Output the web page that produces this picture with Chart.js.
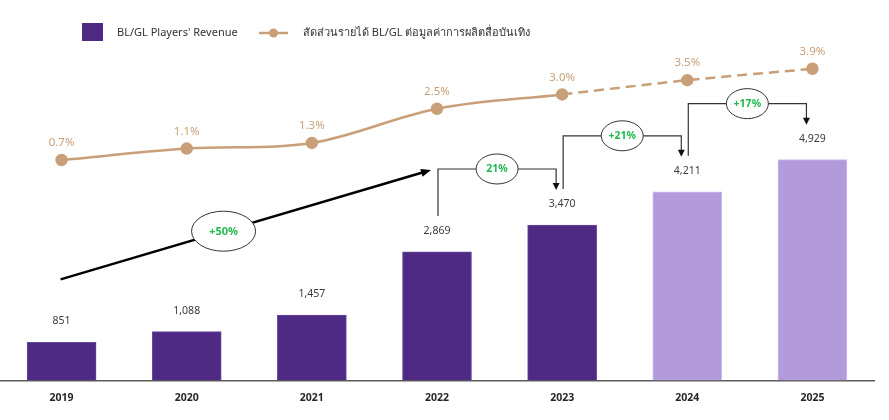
<!DOCTYPE html>
<html><head><meta charset="utf-8">
<script src="https://cdn.jsdelivr.net/npm/chart.js@4.4.0/dist/chart.umd.min.js"></script>
<style>
html,body{margin:0;padding:0;background:#fff;width:889px;height:420px;overflow:hidden;}
#wrap{position:absolute;left:-1px;top:0;width:876px;height:420px;}
</style></head><body>
<div id="wrap"><canvas id="c"></canvas></div>
<script>
const years = ['2019','2020','2021','2022','2023','2024','2025'];
const revenue = [851, 1088, 1457, 2869, 3470, 4211, 4929];
const share = [0.7, 1.1, 1.3, 2.5, 3.0, 3.5, 3.9];
const growthLabels = ['21%', '+21%', '+17%'];   // 2022→2023, 2023→2024, 2024→2025
const cagrLabel = '+50%';                        // 2019→2022
const legendLabels = ["BL/GL Players' Revenue", 'สัดส่วนรายได้ BL/GL ต่อมูลค่าการผลิตสื่อบันเทิง'];
const forecastStart = 5;

const barDark = '#4E2A84', barLight = '#B39BDB', lineColor = '#C89F78';
const green = '#22B84F', ink = '#3A3A3A';
const FONT = '"Noto Sans", "Open Sans", sans-serif';

function arrowHead(ctx, x, y, ang, len, half) {
  ctx.beginPath();
  ctx.moveTo(x, y);
  ctx.lineTo(x - len*Math.cos(ang) + half*Math.sin(ang), y - len*Math.sin(ang) - half*Math.cos(ang));
  ctx.lineTo(x - len*Math.cos(ang) - half*Math.sin(ang), y - len*Math.sin(ang) + half*Math.cos(ang));
  ctx.closePath();
  ctx.fill();
}
function bubble(ctx, cx, cy, rx, ry, text, size) {
  ctx.beginPath();
  ctx.ellipse(cx, cy, rx, ry, 0, 0, Math.PI*2);
  ctx.fillStyle = '#fff'; ctx.fill();
  ctx.lineWidth = 1; ctx.strokeStyle = '#333'; ctx.stroke();
  ctx.fillStyle = green;
  ctx.font = 'bold ' + size + 'px ' + FONT;
  ctx.textAlign = 'center'; ctx.textBaseline = 'middle';
  ctx.fillText(text, cx, cy + 0.5);
}

const overlay = {
  id: 'overlay',
  afterDraw(chart) {
    const ctx = chart.ctx;
    const xs = chart.scales.x;
    const bars = chart.getDatasetMeta(0).data;
    const pts = chart.getDatasetMeta(1).data;
    const cx = i => xs.getPixelForValue(i);
    const labelY = i => bars[i].y - 21;
    ctx.save();
    // value labels
    ctx.textAlign = 'center'; ctx.textBaseline = 'middle';
    ctx.font = '10.5px ' + FONT; ctx.fillStyle = ink;
    revenue.forEach((v, i) => ctx.fillText(v.toLocaleString('en-US'), cx(i), labelY(i)));
    ctx.font = '11.5px ' + FONT; ctx.fillStyle = lineColor;
    share.forEach((v, i) => ctx.fillText(v.toFixed(1) + '%', pts[i].x, pts[i].y - 17));

    // step connectors
    let firstLevel = 0;
    for (let k = 0; k < growthLabels.length; k++) {
      const i = 3 + k;
      const x0 = cx(i) + 1, x1 = cx(i+1) - 6;
      const y0 = labelY(i) - 15, tip = labelY(i+1) - 14;
      const lvl = tip - 21;
      if (k === 0) firstLevel = lvl;
      ctx.strokeStyle = '#333'; ctx.lineWidth = 1.2;
      ctx.beginPath();
      ctx.moveTo(x0, y0); ctx.lineTo(x0, lvl); ctx.lineTo(x1, lvl); ctx.lineTo(x1, tip - 6);
      ctx.stroke();
      ctx.fillStyle = '#111';
      arrowHead(ctx, x1, tip, Math.PI/2, 7, 3.5);
      bubble(ctx, (x0 + x1)/2, lvl, 21, 15, growthLabels[k], 10.5);
    }
    // CAGR arrow
    const ax0 = cx(0) - 1, ay0 = labelY(0) - 42;
    const ax1 = cx(3) - 6, ay1 = firstLevel + 1;
    const ang = Math.atan2(ay1 - ay0, ax1 - ax0);
    ctx.strokeStyle = '#000'; ctx.lineWidth = 2.4;
    ctx.beginPath(); ctx.moveTo(ax0, ay0);
    ctx.lineTo(ax1 - 8*Math.cos(ang), ay1 - 8*Math.sin(ang)); ctx.stroke();
    ctx.fillStyle = '#000';
    arrowHead(ctx, ax1, ay1, ang, 10, 4);
    const t = 0.44;
    bubble(ctx, ax0 + (ax1-ax0)*t, ay0 + (ay1-ay0)*t, 32, 20, cagrLabel, 11);

    // legend
    ctx.fillStyle = barDark;
    ctx.fillRect(83, 23, 21, 18);
    ctx.font = '11px ' + FONT; ctx.fillStyle = '#333';
    ctx.textAlign = 'left'; ctx.textBaseline = 'middle';
    ctx.fillText(legendLabels[0], 118, 33);
    ctx.strokeStyle = lineColor; ctx.lineWidth = 2.5;
    ctx.beginPath(); ctx.moveTo(260, 33); ctx.lineTo(289, 33); ctx.stroke();
    ctx.fillStyle = lineColor;
    ctx.beginPath(); ctx.arc(274.5, 33, 4.5, 0, Math.PI*2); ctx.fill();
    ctx.fillStyle = '#333';
    ctx.fillText(legendLabels[1], 304, 33);
    ctx.restore();
  }
};

new Chart(document.getElementById('c'), {
  data: {
    labels: years,
    datasets: [
      {
        type: 'bar', label: legendLabels[0], data: revenue, yAxisID: 'y',
        backgroundColor: revenue.map((v, i) => i >= forecastStart ? barLight : barDark),
        borderColor: revenue.map((v, i) => i >= forecastStart ? '#CDBDF0' : '#6A4A9E'),
        borderWidth: {top: 1, left: 1, right: 1, bottom: 0},
        barThickness: 69, order: 2
      },
      {
        type: 'line', label: legendLabels[1], data: share, yAxisID: 'y2',
        borderColor: lineColor, backgroundColor: lineColor, borderWidth: 2.5,
        pointRadius: 5, pointHoverRadius: 5, tension: 0.35, clip: false, order: 1,
        segment: { borderDash: c => c.p0DataIndex >= 4 ? [10, 6] : undefined }
      }
    ]
  },
  options: {
    responsive: true, maintainAspectRatio: false, animation: false,
    layout: { autoPadding: false, padding: { top: 40, left: 0, right: 0, bottom: 5 } },
    plugins: { legend: { display: false }, tooltip: { enabled: false } },
    scales: {
      x: {
        offset: true,
        grid: { display: false, drawTicks: false },
        border: { display: true, color: '#5A5A5A', width: 1.5 },
        ticks: { color: '#262626', font: { family: FONT, size: 10.5, weight: 'bold' }, padding: 11 }
      },
      y: { display: false, min: 0, max: 7600 },
      y2: { display: false, min: -7.03, max: 4.91 }
    }
  },
  plugins: [overlay]
});
</script>
</body></html>
